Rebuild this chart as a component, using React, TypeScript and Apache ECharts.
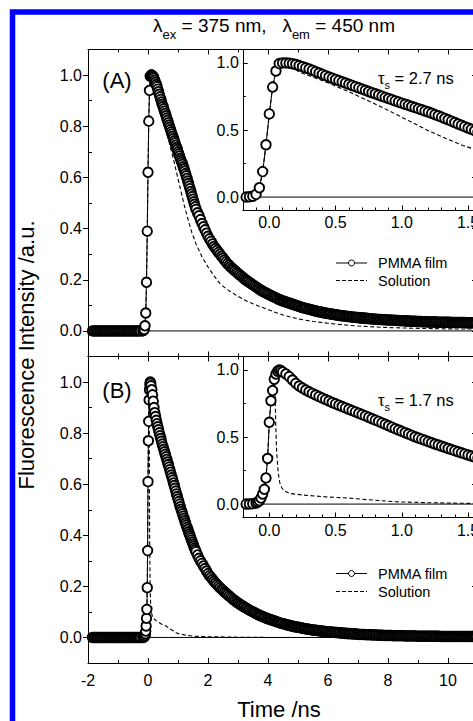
import React, { useEffect, useRef } from 'react';
import * as echarts from 'echarts';

const FONT = '"Liberation Sans", Arial, Helvetica, sans-serif';

// ---- axis ranges & tick values ----
const X_MIN = -2, X_MAX = 11;
const Y_MIN = -0.1, Y_MAX = 1.1;
const IN_X_MIN = -0.2, IN_X_MAX = 1.6;

const xMajor = [-2, 0, 2, 4, 6, 8, 10];
const xMinor = [-1, 1, 3, 5, 7, 9, 11];
const yMajor = [0, 0.2, 0.4, 0.6, 0.8, 1.0];
const yMinor = [0.1, 0.3, 0.5, 0.7, 0.9];
const inXMajor = [0, 0.5, 1.0, 1.5];
const inXMinor = [-0.1, 0.1, 0.2, 0.3, 0.4, 0.6, 0.7, 0.8, 0.9, 1.1, 1.2, 1.3, 1.4];
const inYMajor = [0, 0.5, 1.0];
const inYMinor = [0.25, 0.75];

// ---- time grids (ns) ----
const tBase = [
  -1.85, -1.8, -1.75, -1.7, -1.65, -1.6, -1.55, -1.5, -1.45, -1.4,
  -1.35, -1.3, -1.25, -1.2, -1.15, -1.1, -1.05, -1.0, -0.95, -0.9,
  -0.85, -0.8, -0.75, -0.7, -0.65, -0.6, -0.55, -0.5, -0.45, -0.4,
  -0.35, -0.3, -0.25,
];
const filmBaseV = [
  0, 0, 0, 0, 0, 0, 0, 0, 0, 0,
  0, 0, 0, 0, 0, 0, 0, 0, 0, 0,
  0, 0, 0, 0, 0, 0, 0, 0, 0, 0,
  0, 0, 0,
];
const tNearA = [
  -0.175, -0.15, -0.125, -0.1, -0.075, -0.05, -0.025, 0, 0.025, 0.05,
  0.075, 0.1, 0.125, 0.15, 0.175, 0.2, 0.225, 0.25, 0.275, 0.3,
  0.325, 0.35, 0.375, 0.4, 0.425, 0.45, 0.475, 0.5, 0.525, 0.55,
  0.575, 0.6, 0.625, 0.65, 0.675, 0.7, 0.725, 0.75, 0.775, 0.8,
  0.825, 0.85, 0.875, 0.9, 0.925, 0.95, 0.975, 1.0, 1.025, 1.05,
  1.075, 1.1, 1.125, 1.15, 1.175, 1.2, 1.225, 1.25, 1.275, 1.3,
  1.325, 1.35, 1.375, 1.4, 1.425, 1.45, 1.475, 1.5, 1.525, 1.55,
  1.575, 1.6,
];
const tNearB = [
  -0.175, -0.15, -0.125, -0.1, -0.0875, -0.075, -0.0625, -0.05, -0.0375, -0.025,
  -0.0125, 0, 0.0125, 0.025, 0.0375, 0.05, 0.0625, 0.075, 0.0875, 0.1,
  0.125, 0.15, 0.175, 0.2, 0.225, 0.25, 0.275, 0.3, 0.325, 0.35,
  0.375, 0.4, 0.425, 0.45, 0.475, 0.5, 0.525, 0.55, 0.575, 0.6,
  0.625, 0.65, 0.675, 0.7, 0.725, 0.75, 0.775, 0.8, 0.825, 0.85,
  0.875, 0.9, 0.925, 0.95, 0.975, 1.0, 1.025, 1.05, 1.075, 1.1,
  1.125, 1.15, 1.175, 1.2, 1.225, 1.25, 1.275, 1.3, 1.325, 1.35,
  1.375, 1.4, 1.425, 1.45, 1.475, 1.5, 1.525, 1.55, 1.575, 1.6,
];
const tTail = [
  1.65, 1.7, 1.75, 1.8, 1.85, 1.9, 1.95, 2.0, 2.05, 2.1,
  2.15, 2.2, 2.25, 2.3, 2.35, 2.4, 2.45, 2.5, 2.55, 2.6,
  2.65, 2.7, 2.75, 2.8, 2.85, 2.9, 2.95, 3.0, 3.05, 3.1,
  3.15, 3.2, 3.25, 3.3, 3.35, 3.4, 3.45, 3.5, 3.55, 3.6,
  3.65, 3.7, 3.75, 3.8, 3.85, 3.9, 3.95, 4.0, 4.05, 4.1,
  4.15, 4.2, 4.25, 4.3, 4.35, 4.4, 4.45, 4.5, 4.55, 4.6,
  4.65, 4.7, 4.75, 4.8, 4.85, 4.9, 4.95, 5.0, 5.05, 5.1,
  5.15, 5.2, 5.25, 5.3, 5.35, 5.4, 5.45, 5.5, 5.55, 5.6,
  5.65, 5.7, 5.75, 5.8, 5.85, 5.9, 5.95, 6.0, 6.05, 6.1,
  6.15, 6.2, 6.25, 6.3, 6.35, 6.4, 6.45, 6.5, 6.55, 6.6,
  6.65, 6.7, 6.75, 6.8, 6.85, 6.9, 6.95, 7.0, 7.05, 7.1,
  7.15, 7.2, 7.25, 7.3, 7.35, 7.4, 7.45, 7.5, 7.55, 7.6,
  7.65, 7.7, 7.75, 7.8, 7.85, 7.9, 7.95, 8.0, 8.05, 8.1,
  8.15, 8.2, 8.25, 8.3, 8.35, 8.4, 8.45, 8.5, 8.55, 8.6,
  8.65, 8.7, 8.75, 8.8, 8.85, 8.9, 8.95, 9.0, 9.05, 9.1,
  9.15, 9.2, 9.25, 9.3, 9.35, 9.4, 9.45, 9.5, 9.55, 9.6,
  9.65, 9.7, 9.75, 9.8, 9.85, 9.9, 9.95, 10.0, 10.05, 10.1,
  10.15, 10.2, 10.25, 10.3, 10.35, 10.4, 10.45, 10.5, 10.55, 10.6,
  10.65, 10.7, 10.75, 10.8, 10.85, 10.9, 10.95, 11.0,
];

// ---- (A) PMMA film intensities ----
const filmNearA = [
  0, 0.002, 0.006, 0.02, 0.07, 0.19, 0.39, 0.62, 0.82, 0.94,
  0.995, 1.0, 1.0, 0.998, 0.994, 0.988, 0.98, 0.972, 0.963, 0.955,
  0.945, 0.935, 0.925, 0.915, 0.905, 0.895, 0.886, 0.877, 0.868, 0.859,
  0.85, 0.841, 0.832, 0.823, 0.814, 0.805, 0.796, 0.787, 0.778, 0.77,
  0.761, 0.752, 0.743, 0.735, 0.726, 0.717, 0.709, 0.7, 0.692, 0.684,
  0.675, 0.667, 0.659, 0.651, 0.642, 0.634, 0.625, 0.615, 0.606, 0.596,
  0.586, 0.576, 0.566, 0.556, 0.545, 0.535, 0.525, 0.515, 0.505, 0.495,
  0.485, 0.475,
];
const filmTailA = [
  0.462, 0.45, 0.435, 0.42, 0.407, 0.395, 0.382, 0.37, 0.36, 0.35,
  0.34, 0.33, 0.322, 0.315, 0.307, 0.3, 0.292, 0.285, 0.277, 0.27,
  0.263, 0.257, 0.251, 0.245, 0.24, 0.235, 0.23, 0.225, 0.22, 0.215,
  0.21, 0.205, 0.2, 0.196, 0.192, 0.188, 0.184, 0.18, 0.176, 0.172,
  0.168, 0.164, 0.16, 0.157, 0.153, 0.15, 0.147, 0.144, 0.141, 0.138,
  0.135, 0.133, 0.13, 0.127, 0.124, 0.122, 0.119, 0.117, 0.115, 0.113,
  0.111, 0.109, 0.107, 0.105, 0.103, 0.101, 0.099, 0.097, 0.095, 0.093,
  0.091, 0.09, 0.088, 0.087, 0.085, 0.084, 0.082, 0.081, 0.079, 0.078,
  0.076, 0.075, 0.074, 0.073, 0.071, 0.07, 0.069, 0.068, 0.067, 0.066,
  0.065, 0.064, 0.063, 0.062, 0.061, 0.06, 0.059, 0.059, 0.058, 0.057,
  0.056, 0.056, 0.055, 0.054, 0.053, 0.053, 0.052, 0.052, 0.051, 0.051,
  0.05, 0.05, 0.049, 0.049, 0.048, 0.048, 0.047, 0.047, 0.046, 0.046,
  0.045, 0.045, 0.045, 0.044, 0.044, 0.044, 0.043, 0.043, 0.043, 0.042,
  0.042, 0.042, 0.041, 0.041, 0.041, 0.04, 0.04, 0.04, 0.04, 0.039,
  0.039, 0.039, 0.038, 0.038, 0.038, 0.038, 0.037, 0.037, 0.037, 0.037,
  0.036, 0.036, 0.036, 0.036, 0.035, 0.035, 0.035, 0.035, 0.035, 0.035,
  0.034, 0.034, 0.034, 0.034, 0.034, 0.034, 0.034, 0.034, 0.034, 0.033,
  0.033, 0.033, 0.033, 0.033, 0.033, 0.033, 0.033, 0.033, 0.033, 0.032,
  0.032, 0.032, 0.032, 0.032, 0.032, 0.032, 0.032, 0.032,
];
// ---- (B) PMMA film intensities ----
const filmNearB = [
  0, 0.001, 0.003, 0.008, 0.015, 0.025, 0.045, 0.075, 0.11, 0.195,
  0.34, 0.61, 0.77, 0.846, 0.93, 0.97, 0.99, 1.0, 0.995, 0.985,
  0.97, 0.95, 0.925, 0.9, 0.88, 0.865, 0.85, 0.837, 0.825, 0.813,
  0.801, 0.79, 0.779, 0.768, 0.757, 0.747, 0.737, 0.727, 0.717, 0.707,
  0.697, 0.687, 0.677, 0.667, 0.657, 0.647, 0.636, 0.626, 0.616, 0.605,
  0.595, 0.584, 0.573, 0.562, 0.552, 0.542, 0.532, 0.522, 0.512, 0.502,
  0.493, 0.484, 0.475, 0.466, 0.457, 0.448, 0.44, 0.431, 0.423, 0.414,
  0.406, 0.398, 0.39, 0.382, 0.374, 0.366, 0.358, 0.35, 0.343, 0.336,
];
const filmTailB = [
  0.323, 0.31, 0.3, 0.29, 0.28, 0.27, 0.26, 0.25, 0.242, 0.235,
  0.227, 0.22, 0.213, 0.207, 0.201, 0.195, 0.189, 0.184, 0.178, 0.173,
  0.168, 0.163, 0.158, 0.153, 0.148, 0.144, 0.139, 0.135, 0.131, 0.127,
  0.123, 0.12, 0.116, 0.113, 0.109, 0.106, 0.103, 0.1, 0.097, 0.094,
  0.091, 0.088, 0.085, 0.083, 0.08, 0.078, 0.075, 0.073, 0.071, 0.069,
  0.067, 0.065, 0.063, 0.061, 0.059, 0.057, 0.055, 0.054, 0.052, 0.051,
  0.049, 0.048, 0.046, 0.045, 0.043, 0.042, 0.041, 0.04, 0.039, 0.038,
  0.036, 0.035, 0.034, 0.033, 0.032, 0.031, 0.03, 0.029, 0.028, 0.028,
  0.027, 0.026, 0.025, 0.025, 0.024, 0.023, 0.022, 0.022, 0.021, 0.021,
  0.02, 0.02, 0.019, 0.019, 0.018, 0.018, 0.017, 0.017, 0.016, 0.016,
  0.015, 0.015, 0.015, 0.014, 0.014, 0.014, 0.013, 0.013, 0.012, 0.012,
  0.012, 0.012, 0.011, 0.011, 0.011, 0.011, 0.01, 0.01, 0.01, 0.01,
  0.009, 0.009, 0.009, 0.009, 0.008, 0.008, 0.008, 0.008, 0.008, 0.008,
  0.007, 0.007, 0.007, 0.007, 0.007, 0.007, 0.007, 0.007, 0.006, 0.006,
  0.006, 0.006, 0.006, 0.006, 0.006, 0.006, 0.005, 0.005, 0.005, 0.005,
  0.005, 0.005, 0.005, 0.005, 0.005, 0.005, 0.005, 0.005, 0.005, 0.005,
  0.005, 0.005, 0.004, 0.004, 0.004, 0.004, 0.004, 0.004, 0.004, 0.004,
  0.004, 0.004, 0.004, 0.004, 0.004, 0.004, 0.004, 0.004, 0.004, 0.004,
  0.004, 0.004, 0.004, 0.004, 0.004, 0.004, 0.004, 0.004,
];

// ---- Solution curves ----
const solA_t = [
  -2, -0.2, -0.1, -0.075, -0.05, -0.025, 0, 0.025, 0.05, 0.075,
  0.1, 0.15, 0.23, 0.3, 0.46, 0.6, 0.71, 0.85, 0.96, 1.06,
  1.21, 1.35, 1.46, 1.6, 1.8, 2.0, 2.2, 2.4, 2.6, 2.8,
  3.0, 3.2, 3.5, 4.0, 4.5, 5.0, 5.5, 6.0, 6.5, 7.0,
  8.0, 9.0, 10.0, 11.0,
];
const solA_v = [
  0, 0, 0.02, 0.07, 0.19, 0.39, 0.62, 0.82, 0.94, 0.99,
  0.995, 0.985, 0.93, 0.905, 0.845, 0.785, 0.735, 0.67, 0.615, 0.565,
  0.49, 0.43, 0.385, 0.34, 0.29, 0.25, 0.215, 0.185, 0.165, 0.15,
  0.135, 0.122, 0.106, 0.083, 0.062, 0.047, 0.037, 0.03, 0.024, 0.019,
  0.013, 0.01, 0.008, 0.007,
];
const solB_t = [
  -2, -0.1, -0.075, -0.05, -0.0375, -0.025, -0.0125, 0, 0.0125, 0.025,
  0.035, 0.04, 0.045, 0.05, 0.055, 0.062, 0.068, 0.08, 0.095, 0.11,
  0.156, 0.256, 0.35, 0.457, 0.6, 0.71, 0.85, 0.96, 1.21, 1.53,
  2.0, 3.0, 4.0, 11.0,
];
const solB_v = [
  0, 0, 0.02, 0.07, 0.12, 0.2, 0.36, 0.6, 0.77, 0.88,
  0.98, 0.93, 0.75, 0.55, 0.4, 0.3, 0.23, 0.155, 0.12, 0.1,
  0.079, 0.067, 0.06, 0.052, 0.045, 0.035, 0.025, 0.017, 0.01, 0.005,
  0.003, 0.001, 0, 0,
];
const baselineT = [X_MIN, X_MAX];
const baselineV = [0, 0];

const zip = (t: number[], v: number[]) => t.map((x, i) => [x, v[i]]);

const mkAxis = (
  gridIndex: number, min: number, max: number, position: string, line: boolean,
  ticks: number[], tickLen: number, inside: boolean,
  labels?: number[], fmt?: (v: number) => string, margin?: number,
) => ({
  type: 'value', gridIndex, min, max, position,
  axisLine: { show: line, onZero: false, lineStyle: { color: '#000', width: 1 } },
  axisTick: { show: true, inside, length: tickLen, customValues: ticks, lineStyle: { color: '#000', width: 1 } },
  axisLabel: labels
    ? { show: true, customValues: labels, formatter: fmt, margin, color: '#000', fontSize: 16, fontFamily: FONT }
    : { show: false },
  splitLine: { show: false },
  minorTick: { show: false },
  axisPointer: { show: false },
});

const f1 = (v: number) => v.toFixed(1);
const fi = (v: number) => String(v);

let measureCtx: CanvasRenderingContext2D | null = null;
function textWidth(text: string, size: number) {
  if (!measureCtx) measureCtx = document.createElement('canvas').getContext('2d');
  if (!measureCtx) return text.length * size * 0.5;
  measureCtx.font = `${size}px ${FONT}`;
  return measureCtx.measureText(text).width;
}

// pieces of text with subscripts: [text, fontSize, dy]
function subscriptText(pieces: [string, number, number][], x: number, y: number, align: 'left' | 'center') {
  const widths = pieces.map(([t, s]) => textWidth(t, s));
  const total = widths.reduce((a, b) => a + b, 0);
  let cx = align === 'center' ? x - total / 2 : x;
  return pieces.map(([t, s, dy], i) => {
    const el = {
      type: 'text', z: 100, x: cx, y: y + dy,
      style: { text: t, fontSize: s, fontFamily: FONT, fill: '#000', align: 'left', verticalAlign: 'middle' },
    };
    cx += widths[i];
    return el;
  });
}

function legendGraphics(y1: number, y2: number) {
  const ts = { fontSize: 14.5, fontFamily: FONT, fill: '#000', verticalAlign: 'middle', align: 'left' };
  return [
    { type: 'line', z: 100, shape: { x1: 336, y1, x2: 367, y2: y1 }, style: { stroke: '#000', lineWidth: 1 } },
    { type: 'circle', z: 101, shape: { cx: 351.5, cy: y1, r: 3 }, style: { fill: '#fff', stroke: '#000', lineWidth: 1 } },
    { type: 'text', z: 100, x: 378, y: y1, style: { ...ts, text: 'PMMA film' } },
    { type: 'line', z: 100, shape: { x1: 336, y1: y2, x2: 367, y2 }, style: { stroke: '#000', lineWidth: 1, lineDash: [4, 2] } },
    { type: 'text', z: 100, x: 378, y: y2, style: { ...ts, text: 'Solution' } },
  ];
}

function buildOption() {
  const filmA = zip([...tBase, ...tNearA, ...tTail], [...filmBaseV, ...filmNearA, ...filmTailA]);
  const filmB = zip([...tBase, ...tNearB, ...tTail], [...filmBaseV, ...filmNearB, ...filmTailB]);
  const solA = zip(solA_t, solA_v);
  const solB = zip(solB_t, solB_v);
  const baseline = zip(baselineT, baselineV);

  const grids = [
    { left: 88, top: 49.5, right: -5, height: 307 },
    { left: 88, top: 356.5, right: -5, height: 306.5 },
    { left: 242.8, top: 49.5, right: -8.3, height: 161 },
    { left: 242.8, top: 356.5, right: -8.3, height: 161 },
  ].map((g) => ({ ...g, containLabel: false, outerBoundsMode: 'none', show: false }));

  const xAxis = [
    mkAxis(0, X_MIN, X_MAX, 'bottom', true, xMajor, 5, true),
    mkAxis(0, X_MIN, X_MAX, 'bottom', false, xMinor, 3, true),
    mkAxis(0, X_MIN, X_MAX, 'top', true, xMajor, 5, true),
    mkAxis(0, X_MIN, X_MAX, 'top', false, xMinor, 3, true),
    mkAxis(1, X_MIN, X_MAX, 'bottom', true, xMajor, 5, true, xMajor, fi, 9),
    mkAxis(1, X_MIN, X_MAX, 'bottom', false, xMinor, 3, true),
    mkAxis(1, X_MIN, X_MAX, 'top', true, xMajor, 5, true),
    mkAxis(1, X_MIN, X_MAX, 'top', false, xMinor, 3, true),
    mkAxis(2, IN_X_MIN, IN_X_MAX, 'bottom', true, inXMajor, 5, true, inXMajor, f1, 4),
    mkAxis(2, IN_X_MIN, IN_X_MAX, 'bottom', false, inXMinor, 3, true),
    mkAxis(3, IN_X_MIN, IN_X_MAX, 'bottom', true, inXMajor, 5, true, inXMajor, f1, 5),
    mkAxis(3, IN_X_MIN, IN_X_MAX, 'bottom', false, inXMinor, 3, true),
  ];
  const yAxis = [
    mkAxis(0, Y_MIN, Y_MAX, 'left', true, yMajor, 5, false, yMajor, f1, 6),
    mkAxis(0, Y_MIN, Y_MAX, 'left', false, yMinor, 4, true),
    mkAxis(0, Y_MIN, Y_MAX, 'right', true, yMajor, 6, true),
    mkAxis(1, Y_MIN, Y_MAX, 'left', true, yMajor, 5, false, yMajor, f1, 6),
    mkAxis(1, Y_MIN, Y_MAX, 'left', false, yMinor, 4, true),
    mkAxis(1, Y_MIN, Y_MAX, 'right', true, yMajor, 6, true),
    mkAxis(2, Y_MIN, Y_MAX, 'left', true, inYMajor, 5, true, inYMajor, f1, 4),
    mkAxis(2, Y_MIN, Y_MAX, 'left', false, inYMinor, 3, true),
    mkAxis(3, Y_MIN, Y_MAX, 'left', true, inYMajor, 5, true, inYMajor, f1, 4),
    mkAxis(3, Y_MIN, Y_MAX, 'left', false, inYMinor, 3, true),
  ];

  const panel = (xi: number, yi: number, film: number[][], sol: number[][]) => [
    {
      type: 'line', data: baseline, xAxisIndex: xi, yAxisIndex: yi, symbol: 'none', silent: true, z: 1,
      lineStyle: { color: '#000', width: 1 },
    },
    {
      type: 'line', name: 'Solution', data: sol, xAxisIndex: xi, yAxisIndex: yi, symbol: 'none', silent: true, z: 2,
      lineStyle: { color: '#000', width: 1.1, type: [4, 2.5] },
    },
    {
      type: 'line', name: 'PMMA film', data: film, xAxisIndex: xi, yAxisIndex: yi, silent: true, z: 3,
      symbol: 'circle', symbolSize: 9.5, showSymbol: true,
      lineStyle: { color: '#000', width: 1 },
      itemStyle: { color: '#fff', borderColor: '#000', borderWidth: 1.9 },
    },
  ];

  const series = [
    ...panel(0, 0, filmA, solA),
    ...panel(4, 3, filmB, solB),
    ...panel(8, 6, filmA, solA),
    ...panel(10, 8, filmB, solB),
  ];

  const graphic = [
    {
      type: 'rect', z: 100, shape: { x: 12.5, y: 12, width: 1000, height: 1000 },
      style: { fill: 'none', stroke: '#0000ff', lineWidth: 5.5 },
    },
    ...subscriptText(
      [['λ', 19, 0], ['ex', 13, 9], [' = 375 nm,   λ', 19, 0], ['em', 13, 9], [' = 450 nm', 19, 0]],
      274, 25, 'center',
    ),
    { type: 'text', z: 100, x: 117, y: 80, style: { text: '(A)', fontSize: 22, fontFamily: FONT, fill: '#000', align: 'center', verticalAlign: 'middle' } },
    { type: 'text', z: 100, x: 117, y: 390, style: { text: '(B)', fontSize: 22, fontFamily: FONT, fill: '#000', align: 'center', verticalAlign: 'middle' } },
    ...subscriptText([['τ', 16.5, 0], ['s', 11, 7], [' = 2.7 ns', 16.5, 0]], 378, 78, 'left'),
    ...subscriptText([['τ', 16.5, 0], ['s', 11, 7], [' = 1.7 ns', 16.5, 0]], 378, 400, 'left'),
    ...legendGraphics(263, 280.5),
    ...legendGraphics(573.5, 591.5),
    {
      type: 'text', z: 100, x: 26, y: 355, rotation: Math.PI / 2,
      style: { text: 'Fluorescence Intensity /a.u.', fontSize: 22, fontFamily: FONT, fill: '#000', align: 'center', verticalAlign: 'middle' },
    },
    {
      type: 'text', z: 100, x: 279, y: 709,
      style: { text: 'Time /ns', fontSize: 22, fontFamily: FONT, fill: '#000', align: 'center', verticalAlign: 'middle' },
    },
  ];

  return {
    animation: false,
    backgroundColor: '#fff',
    grid: grids,
    xAxis,
    yAxis,
    series,
    graphic,
  };
}

export default function App() {
  const ref = useRef<HTMLDivElement>(null);
  useEffect(() => {
    if (!ref.current) return;
    const chart = echarts.init(ref.current, null, { renderer: 'svg' });
    chart.setOption(buildOption() as any);
    return () => chart.dispose();
  }, []);
  return (
    <div
      ref={ref}
      style={{ position: 'fixed', left: 0, top: 0, width: 473, height: 721, background: '#fff' }}
    />
  );
}
